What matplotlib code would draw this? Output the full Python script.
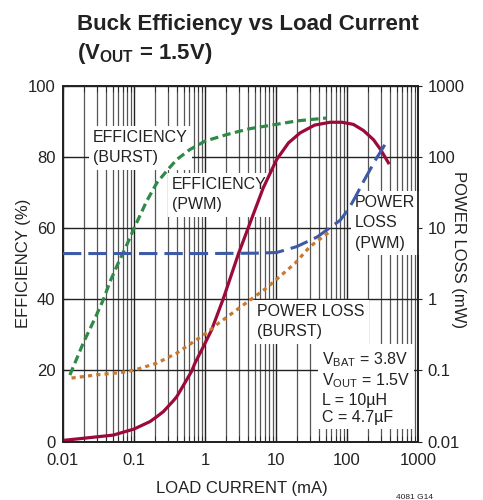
import matplotlib
matplotlib.use("Agg")
import matplotlib.pyplot as plt
from matplotlib import font_manager
from matplotlib.ticker import FixedLocator, LogLocator, NullFormatter

# узкий шрифт, если есть; иначе обычный Liberation Sans чуть мельче
_names = {f.name for f in font_manager.fontManager.ttflist}
if "Liberation Sans Narrow" in _names:
    BASE = "Liberation Sans Narrow"
    FS, AFS, TFS = 13, 13, 17.5
else:
    BASE = "Liberation Sans"
    FS, AFS, TFS = 12, 11.5, 16
plt.rcParams["font.family"] = [BASE, "DejaVu Sans"]
plt.rcParams["mathtext.fontset"] = "custom"
plt.rcParams["mathtext.rm"] = BASE
plt.rcParams["mathtext.bf"] = BASE + ":bold"

# ---------- данные ----------
eff_pwm_i = [0.01, 0.0267, 0.051, 0.1, 0.168, 0.21, 0.259, 0.36, 0.4, 0.55,
             0.65, 0.72, 0.95, 1.24, 1.82, 2.96, 4.1, 6.6, 10.2, 15, 21.8,
             35, 57.5, 85, 123, 170, 236, 300, 383]
eff_pwm = [0.3, 1.2, 1.8, 3.5, 5.6, 7.0, 8.4, 11.5, 12.6, 17.3,
           19.8, 22, 26.7, 31.4, 40.3, 52.8, 60.3, 71.3, 79.3, 84, 86.8,
           89, 89.8, 89.8, 89.2, 87.5, 84.9, 82, 78.4]

eff_burst_i = [0.0125, 0.0193, 0.028, 0.037, 0.046, 0.06, 0.08, 0.103, 0.15,
               0.209, 0.3, 0.4, 0.61, 1, 2, 3.1, 4.3, 10, 20, 51.8]
eff_burst = [18.7, 27.7, 34.5, 39.9, 45, 50.2, 55.5, 60.5, 67.5,
             72.7, 76.5, 79.3, 82.1, 84.5, 86.3, 87.3, 88, 89.2, 90.2, 91]

loss_pwm_i = [0.01, 0.1, 1, 5, 10.2, 19.5, 37.8, 80, 105, 130, 170, 250, 383]
loss_pwm = [4.4, 4.4, 4.4, 4.45, 4.55, 5.5, 7.5, 12.9, 18.5, 27, 45, 90, 180]

loss_burst_i = [0.0132, 0.0297, 0.0636, 0.098, 0.208, 0.4, 0.76, 1.11, 1.46,
                3.86, 7.4, 18.5, 30, 57]
loss_burst = [0.078, 0.0865, 0.093, 0.1, 0.126, 0.175, 0.27, 0.35, 0.44,
              0.9, 1.45, 3.2, 5.5, 8.9]

x_ticks = [0.01, 0.1, 1, 10, 100, 1000]
x_labels = ["0.01", "0.1", "1", "10", "100", "1000"]
eff_ticks = [0, 20, 40, 60, 80, 100]
loss_ticks = [0.01, 0.1, 1, 10, 100, 1000]
loss_labels = ["0.01", "0.1", "1", "10", "100", "1000"]

RED = "#9b0a3a"
GREEN = "#2f8a47"
BLUE = "#3d5aa6"
ORANGE = "#c8792f"
INK = "#222222"

fig = plt.figure(figsize=(4.83, 5.0), dpi=100)
ax = fig.add_axes([0.1304, 0.117, 0.735, 0.711])
ax2 = ax.twinx()

ax.set_xscale("log")
ax.set_xlim(0.01, 1000)
ax.set_ylim(0, 100)
ax2.set_yscale("log")
ax2.set_ylim(0.01, 1000)

ax.set_xticks(x_ticks)
ax.set_xticklabels(x_labels)
ax.xaxis.set_minor_locator(LogLocator(base=10, subs=range(2, 10), numticks=20))
ax.xaxis.set_minor_formatter(NullFormatter())
ax.set_yticks(eff_ticks)
ax2.set_yticks(loss_ticks)
ax2.set_yticklabels(loss_labels)
ax2.yaxis.set_minor_locator(FixedLocator([]))

ax.set_axisbelow(True)
ax.grid(True, which="major", color="#222222", linewidth=1.0)
ax.grid(True, which="minor", axis="x", color="#555555", linewidth=0.9)

ax.tick_params(axis="both", which="both", direction="in", top=True,
               labelsize=FS, color=INK, labelcolor=INK, length=4)
ax.tick_params(axis="x", pad=8)
ax.tick_params(axis="y", pad=5.5)
ax2.tick_params(axis="y", direction="out", length=3, labelsize=FS, pad=4,
                color=INK, labelcolor=INK)
for a in (ax, ax2):
    for s in a.spines.values():
        s.set_linewidth(1.3)
        s.set_color(INK)

# КПД — левая шкала, потери — правая (логарифмическая)
ax.plot(eff_pwm_i, eff_pwm, color=RED, linewidth=2.3, zorder=5)
ax.plot(eff_burst_i, eff_burst, color=GREEN, linewidth=2.3, zorder=5,
        dashes=(2.6, 1.4))
ax2.plot(loss_pwm_i, loss_pwm, color=BLUE, linewidth=2.2, zorder=5,
         dashes=(6.0, 2.3))
ax2.plot(loss_burst_i, loss_burst, color=ORANGE, linewidth=2.3, zorder=5,
         dashes=(1.3, 1.3))

box = dict(facecolor="white", edgecolor="none", pad=3)
tkw = dict(transform=fig.transFigure, fontsize=AFS, va="top", ha="left",
           linespacing=1.45, bbox=box, zorder=3, color=INK)
ax.text(93 / 483, 1 - 130 / 500, "EFFICIENCY\n(BURST)", **tkw)
ax.text(172 / 483, 1 - 177 / 500, "EFFICIENCY\n(PWM)", **tkw)
ax.text(355 / 483, 1 - 195 / 500, "POWER\nLOSS\n(PWM)", **tkw)
ax.text(257 / 483, 1 - 304 / 500, "POWER LOSS\n(BURST)", **tkw)
tkw["linespacing"] = 1.2
ax.text(322 / 483, 1 - 350 / 500,
        "$\\mathregular{V_{BAT}}$ = 3.8V\n$\\mathregular{V_{OUT}}$ = 1.5V\n"
        "L = 10µH\nC = 4.7µF", **tkw)

ax.set_xlabel("LOAD CURRENT (mA)", fontsize=FS, color=INK, va="center")
ax.xaxis.set_label_coords(0.504, -0.131)
ax.set_ylabel("EFFICIENCY (%)", fontsize=FS, color=INK, va="center")
ax.yaxis.set_label_coords(-0.111, 0.5)
ax2.set_ylabel("POWER LOSS (mW)", fontsize=FS, color=INK, rotation=-90,
               va="center", ha="center")
ax2.yaxis.set_label_coords(1.113, 0.54)

fig.text(77 / 483, 1 - 30 / 500, "Buck Efficiency vs Load Current",
         fontsize=TFS, fontweight="bold", ha="left", va="baseline", color=INK)
fig.text(77 / 483, 1 - 59 / 500, "($\\mathbf{V_{OUT}}$ = 1.5V)",
         fontsize=TFS, fontweight="bold", ha="left", va="baseline", color=INK)
fig.text(0.82, -0.002, "4081 G14", fontsize=6, ha="left", va="bottom",
         color=INK)

fig.savefig("out.png", dpi=100)
